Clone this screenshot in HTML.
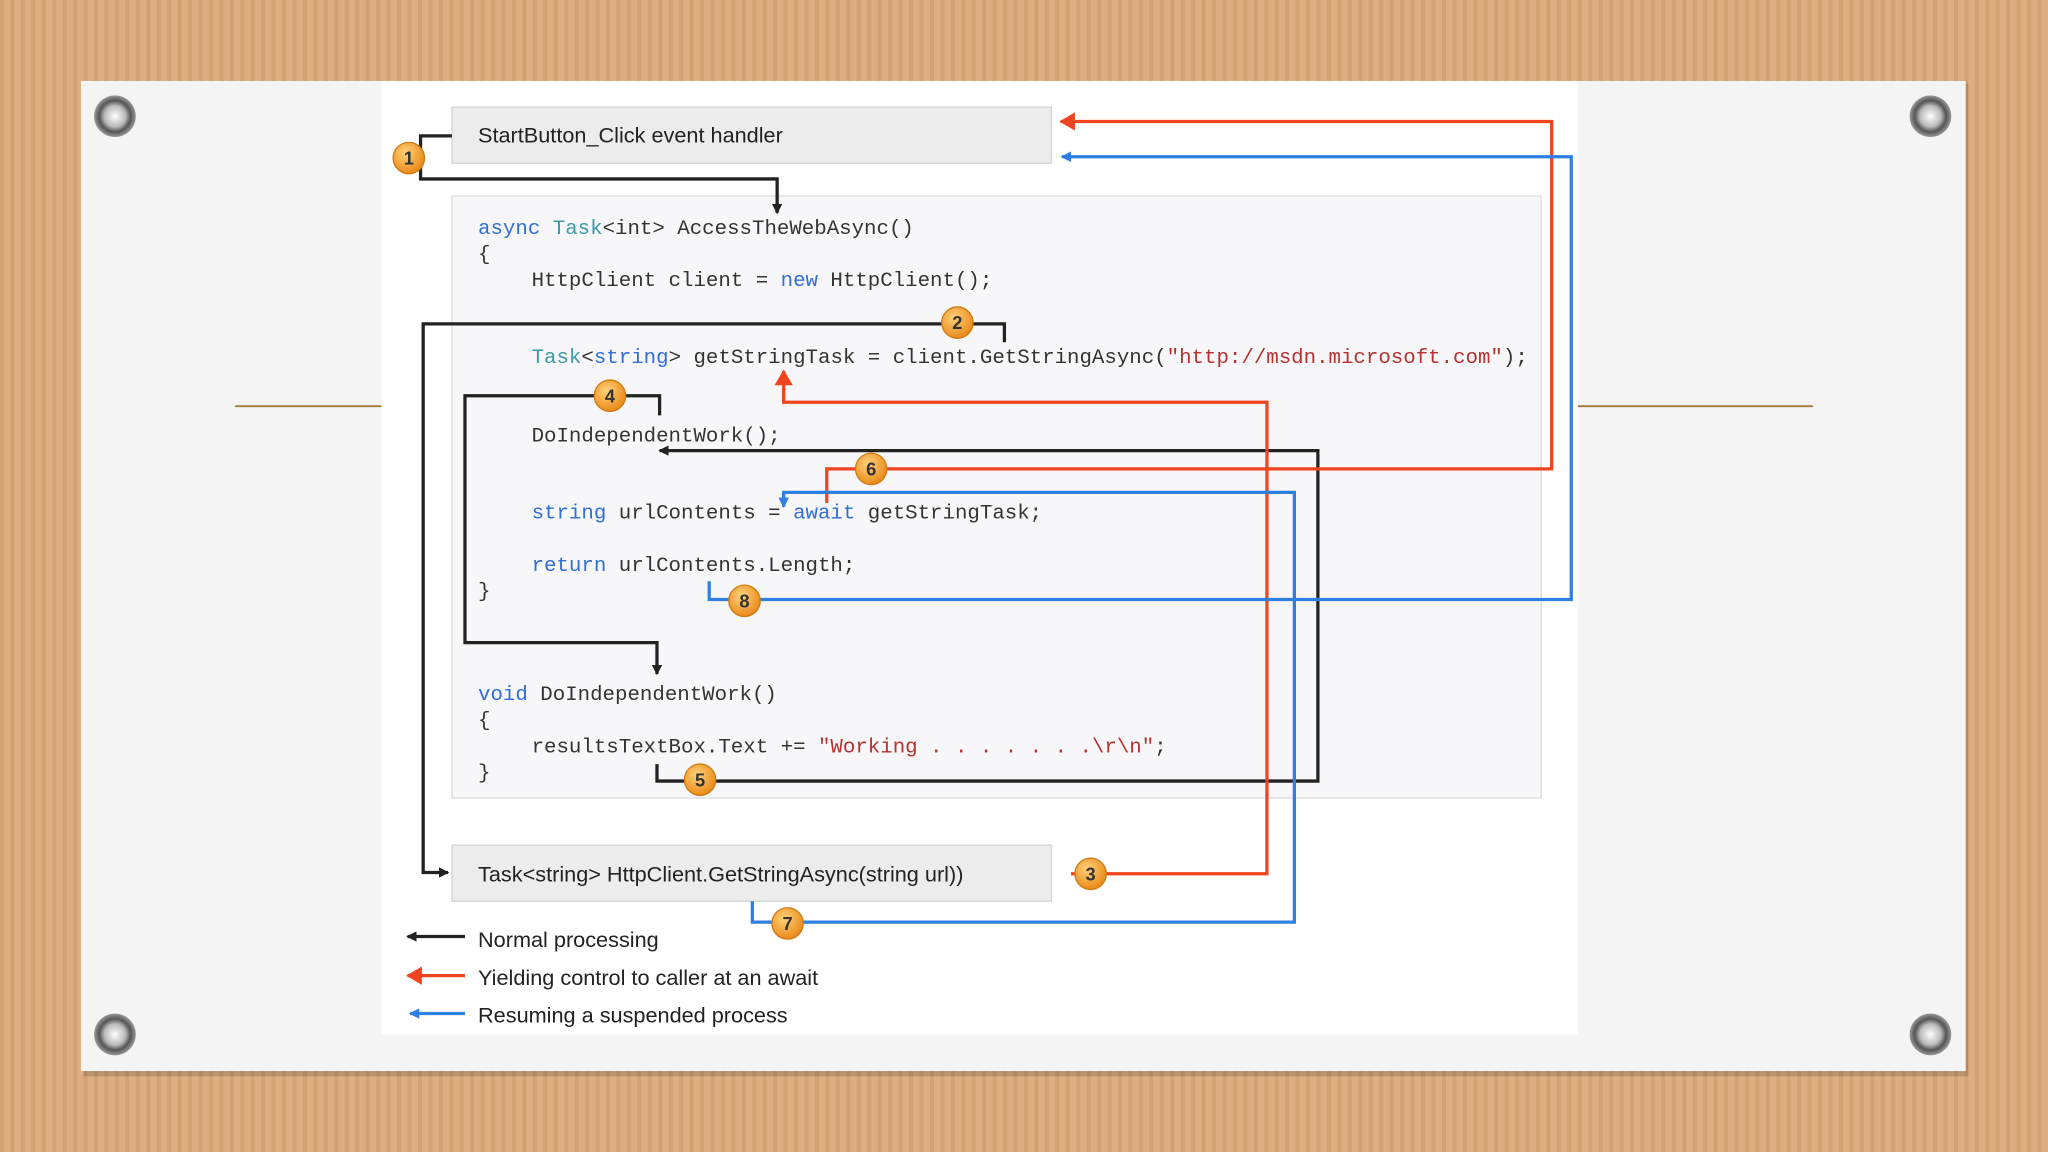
<!DOCTYPE html>
<html><head><meta charset="utf-8"><style>
html,body{margin:0;padding:0;width:2048px;height:1152px;overflow:hidden;background:#d9ab7e;}
svg{display:block}
.c{font-family:"Liberation Mono",monospace;font-size:15.9px;fill:#333}
.k{fill:#2f6fd6}.t{fill:#3a9aa8}.s{fill:#b8312f}
.l{font-family:"Liberation Sans",sans-serif;font-size:16.6px;fill:#222}
.n{font-family:"Liberation Sans",sans-serif;font-size:14px;fill:#333;text-anchor:middle;font-weight:bold}
</style></head><body>
<svg width="2048" height="1152" viewBox="0 0 1568 882" xmlns="http://www.w3.org/2000/svg">
<defs>
<pattern id="st" width="8" height="10" patternUnits="userSpaceOnUse">
<rect width="8" height="10" fill="#dcae82"/><rect width="3" height="10" fill="#d2a272"/></pattern>
<marker id="ab" markerWidth="8" markerHeight="8" refX="7" refY="4" orient="auto" markerUnits="userSpaceOnUse"><path d="M0,0L8,4L0,8Z" fill="#222"/></marker>
<marker id="ar" markerWidth="12" markerHeight="14" refX="11" refY="7" orient="auto" markerUnits="userSpaceOnUse"><path d="M0,0L12,7L0,14Z" fill="#f0431f"/></marker>
<marker id="au" markerWidth="8" markerHeight="8" refX="7" refY="4" orient="auto" markerUnits="userSpaceOnUse"><path d="M0,0L8,4L0,8Z" fill="#2f7fe0"/></marker>
<radialGradient id="og" cx="40%" cy="35%" r="65%"><stop offset="0" stop-color="#ffd27a"/><stop offset="1" stop-color="#e98a1a"/></radialGradient>
<radialGradient id="sc" cx="50%" cy="50%" r="50%"><stop offset="0" stop-color="#fff"/><stop offset="0.5" stop-color="#bbb"/><stop offset="0.75" stop-color="#555"/><stop offset="1" stop-color="#999"/></radialGradient>
</defs>
<rect width="1568" height="882" fill="url(#st)"/>
<rect x="64" y="64" width="1443" height="760" fill="#000" opacity="0.15"/>
<rect x="62" y="62" width="1443" height="758" fill="#f4f4f4"/>
<line x1="180" y1="311" x2="292" y2="311" stroke="#a07a3a" stroke-width="1.5"/>
<line x1="1208" y1="311" x2="1388" y2="311" stroke="#a07a3a" stroke-width="1.5"/>
<rect x="292" y="62" width="916" height="730" fill="#fff"/>
<g fill="url(#sc)"><circle cx="88" cy="89" r="16"/><circle cx="1478" cy="89" r="16"/><circle cx="88" cy="792" r="16"/><circle cx="1478" cy="792" r="16"/></g>
<rect x="346" y="82" width="459" height="43" fill="#ececec" stroke="#d4d4d4"/>
<text x="366" y="109" class="l">StartButton_Click event handler</text>
<rect x="346" y="150" width="834" height="461" fill="#f7f7f9" stroke="#dcdcdc"/>
<rect x="346" y="647" width="459" height="43" fill="#ececec" stroke="#d4d4d4"/>
<text x="366" y="675" class="l">Task&lt;string&gt; HttpClient.GetStringAsync(string url))</text>
<g class="c">
<text x="366" y="179"><tspan class="k">async</tspan> <tspan class="t">Task</tspan>&lt;int&gt; AccessTheWebAsync()</text>
<text x="366" y="199">{</text>
<text x="407" y="219">HttpClient client = <tspan class="k">new</tspan> HttpClient();</text>
<text x="407" y="278"><tspan class="t">Task</tspan>&lt;<tspan class="k">string</tspan>&gt; getStringTask = client.GetStringAsync(<tspan class="s">"http://msdn.microsoft.com"</tspan>);</text>
<text x="407" y="338">DoIndependentWork();</text>
<text x="407" y="397"><tspan class="k">string</tspan> urlContents = <tspan class="k">await</tspan> getStringTask;</text>
<text x="407" y="437"><tspan class="k">return</tspan> urlContents.Length;</text>
<text x="366" y="457">}</text>
<text x="366" y="536"><tspan class="k">void</tspan> DoIndependentWork()</text>
<text x="366" y="556">{</text>
<text x="407" y="576">resultsTextBox.Text += <tspan class="s">"Working . . . . . . .\r\n"</tspan>;</text>
<text x="366" y="596">}</text>
</g>
<g fill="none" stroke-width="2.5">
<polyline stroke="#222" points="346,104 322,104 322,137 595,137 595,163" marker-end="url(#ab)"/>
<polyline stroke="#222" points="769,262 769,248 324,248 324,668 343,668" marker-end="url(#ab)"/>
<polyline stroke="#222" points="505,318 505,303 356,303 356,492 503,492 503,516" marker-end="url(#ab)"/>
<polyline stroke="#222" points="503,585 503,598 1009,598 1009,345 505,345" marker-end="url(#ab)"/>
<polyline stroke="#f0431f" points="820,669 970,669 970,308 600,308 600,284" marker-end="url(#ar)"/>
<polyline stroke="#f0431f" points="633,385 633,359 1188,359 1188,93 812,93" marker-end="url(#ar)"/>
<polyline stroke="#2f7fe0" points="576,690 576,706 991,706 991,377 600,377 600,388" marker-end="url(#au)"/>
<polyline stroke="#2f7fe0" points="543,445 543,459 1203,459 1203,120 813,120" marker-end="url(#au)"/>
<line stroke="#222" x1="356" y1="717" x2="312" y2="717" marker-end="url(#ab)"/>
<line stroke="#f0431f" x1="356" y1="747" x2="312" y2="747" marker-end="url(#ar)"/>
<line stroke="#2f7fe0" x1="356" y1="776" x2="314" y2="776" marker-end="url(#au)"/>
</g>
<text x="366" y="725" class="l">Normal processing</text>
<text x="366" y="754" class="l">Yielding control to caller at an await</text>
<text x="366" y="783" class="l">Resuming a suspended process</text>
<g stroke="#d07a10" stroke-width="1" fill="url(#og)">
<circle cx="313" cy="121" r="12"/><circle cx="733" cy="247" r="12"/><circle cx="835" cy="669" r="12"/><circle cx="467" cy="303" r="12"/>
<circle cx="536" cy="597" r="12"/><circle cx="667" cy="359" r="12"/><circle cx="603" cy="707" r="12"/><circle cx="570" cy="460" r="12"/>
</g>
<g class="n">
<text x="313" y="126">1</text><text x="733" y="252">2</text><text x="835" y="674">3</text><text x="467" y="308">4</text>
<text x="536" y="602">5</text><text x="667" y="364">6</text><text x="603" y="712">7</text><text x="570" y="465">8</text>
</g>
</svg>
</body></html>
